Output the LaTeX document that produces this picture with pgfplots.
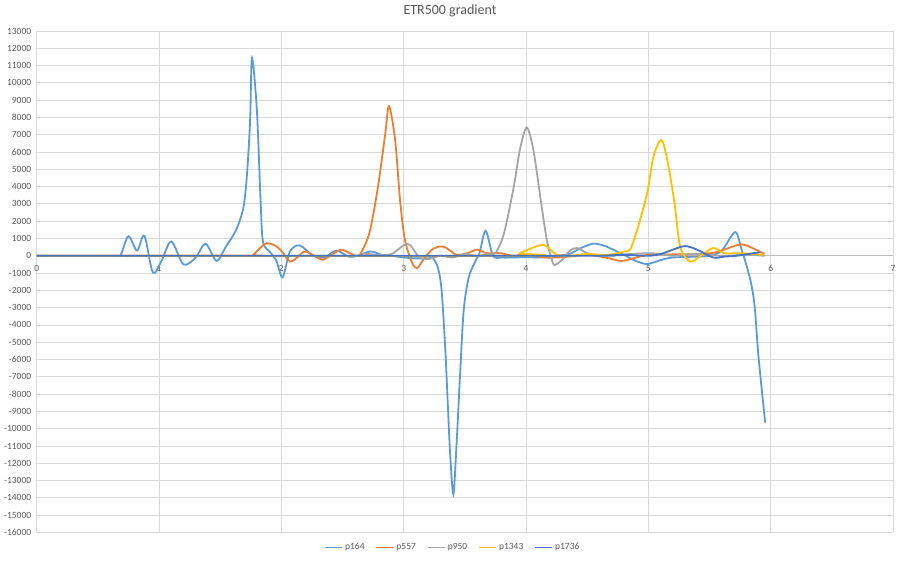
\documentclass[border=0pt]{standalone}
\usepackage{fontspec}
\setmainfont{Carlito}
\usepackage{pgfplots}
\pgfplotsset{compat=1.18}
\definecolor{c164}{HTML}{5B9BD5}
\definecolor{c557}{HTML}{ED7D31}
\definecolor{c950}{HTML}{A5A5A5}
\definecolor{c1343}{HTML}{FFC000}
\definecolor{c1736}{HTML}{4472C4}
\definecolor{txt}{HTML}{595959}
\definecolor{gridc}{HTML}{D9D9D9}
\definecolor{axc}{HTML}{BFBFBF}
\pgfplotsset{every axis title/.style={at={(0.4827,1)}, anchor=center, yshift=20pt}}
\begin{document}
\begin{tikzpicture}
\begin{axis}[
    name=ax,
    scale only axis,
    width=856.3pt, height=501.4pt,
    xmin=0, xmax=7, ymin=-16000, ymax=13000,
    xtick={0,1,...,7},
    ytick={-16000,-15000,...,13000},
    scaled y ticks=false,
    axis line style={draw=none},
    grid=major,
    major grid style={draw=gridc, line width=0.8pt},
    extra y ticks={0}, extra y tick labels={},
    extra y tick style={major grid style={draw=axc, line width=0.8pt}},
    major tick length=0pt,
    tick label style={font=\fontsize{9.5}{11}\selectfont, text=txt},
    xticklabel style={yshift=271pt},
    yticklabel style={xshift=-2pt},
    /pgf/number format/assume math mode=true,
    /pgf/number format/set thousands separator={},
    title={\textcolor{txt}{ETR500 gradient}},
    title style={font=\fontsize{14}{16}\selectfont},
    legend style={at={(0.486,-0.03)}, anchor=center, draw=none,
                  font=\fontsize{9.5}{11}\selectfont,
                  /tikz/every even column/.append style={column sep=9pt}},
    legend columns=-1,
    every axis plot/.append style={line width=1.8pt, smooth, tension=0.5},
]
% p164
\addplot[draw=c164] coordinates {
 (0,0) (0.65,0) (0.69,100) (0.75,1130) (0.82,300) (0.88,1150) (0.95,-970)
 (1.02,-300) (1.10,830) (1.20,-500) (1.30,-100) (1.38,700) (1.47,-300)
 (1.54,450) (1.63,1500) (1.69,2800) (1.72,4800) (1.745,7900) (1.76,11450)
 (1.80,8400) (1.83,3200) (1.85,800) (1.91,200) (1.96,-300) (2.01,-1250)
 (2.07,250) (2.15,600) (2.26,0) (2.35,-100) (2.45,300) (2.55,-50) (2.62,0)
 (2.73,250) (2.82,50) (2.90,0) (3.00,-100) (3.10,-150) (3.20,-150)
 (3.24,-150) (3.28,-700) (3.31,-2000) (3.34,-5400)
 (3.36,-8500) (3.38,-11500) (3.406,-13800) (3.43,-11200) (3.46,-7000)
 (3.49,-3200) (3.53,-1300) (3.58,-400) (3.62,170) (3.67,1450) (3.73,0) (3.80,-100)
 (3.90,-100) (4.00,-80) (4.10,-100) (4.20,-50) (4.35,100) (4.45,450)
 (4.55,700) (4.65,550) (4.80,50) (4.90,-300) (4.99,-480) (5.10,-250)
 (5.20,-100) (5.40,-50) (5.50,0) (5.60,300) (5.71,1370) (5.76,400)
 (5.80,-500) (5.84,-1600) (5.87,-3000) (5.90,-5800) (5.955,-9650)
};
% p557
\addplot[draw=c557] coordinates {
 (0,0) (1.74,0) (1.77,50) (1.82,400) (1.88,730) (1.96,540) (2.01,200)
 (2.07,-330) (2.13,-100) (2.19,250) (2.27,0) (2.34,-230) (2.42,100)
 (2.49,350) (2.56,150) (2.62,-30) (2.65,150) (2.72,1330) (2.79,4000)
 (2.85,7100) (2.88,8650) (2.93,6700) (2.97,3240) (3.01,920) (3.07,-420)
 (3.11,-710) (3.16,-230) (3.23,350) (3.30,540) (3.35,450) (3.43,60)
 (3.52,150) (3.60,350) (3.68,150) (3.79,150) (3.90,0) (4.00,100)
 (4.15,-100) (4.30,-80) (4.50,50) (4.65,-100) (4.78,-300) (4.90,-100)
 (5.00,50) (5.20,80) (5.40,100) (5.55,200) (5.75,650) (5.85,450) (5.95,100)
};
% p950
\addplot[draw=c950] coordinates {
 (0,0) (2.60,0) (2.70,100) (2.80,50) (2.90,100) (3.00,600) (3.05,640)
 (3.13,-120) (3.20,-200) (3.30,0) (3.40,-100) (3.50,100) (3.60,0)
 (3.70,100) (3.75,150) (3.82,1300) (3.90,4000) (3.95,6130) (4.005,7420)
 (4.06,6130) (4.12,3240) (4.17,920) (4.22,-420) (4.25,-480) (4.30,-200)
 (4.36,300) (4.42,450) (4.50,150) (4.60,0) (4.70,50) (4.85,100)
 (5.00,150) (5.10,100) (5.20,0) (5.40,100) (5.60,0) (5.80,50) (5.95,0)
};
% p1343
\addplot[draw=c1343] coordinates {
 (0,0) (3.90,0) (3.95,150) (4.05,450) (4.14,640) (4.20,350) (4.25,60)
 (4.35,0) (4.50,100) (4.65,50) (4.75,150) (4.80,250) (4.85,350)
 (4.90,1300) (4.99,3600) (5.04,5700) (5.105,6700) (5.15,5700) (5.21,3240)
 (5.26,540) (5.34,-330) (5.42,-40) (5.53,450) (5.62,150) (5.75,150)
 (5.94,60)
};
% p1736
\addplot[draw=c1736] coordinates {
 (0,0) (4.40,0) (4.60,0) (4.80,50) (5.00,0) (5.10,100) (5.20,350)
 (5.30,560) (5.40,350) (5.53,-100) (5.62,-50) (5.72,0) (5.86,150)
 (5.91,200)
};
% legend drawn with explicit styles
\addlegendimage{draw=c164, line width=1.8pt, sharp plot}
\addlegendentry{\textcolor{txt}{p164}}
\addlegendimage{draw=c557, line width=1.8pt, sharp plot}
\addlegendentry{\textcolor{txt}{p557}}
\addlegendimage{draw=c950, line width=1.8pt, sharp plot}
\addlegendentry{\textcolor{txt}{p950}}
\addlegendimage{draw=c1343, line width=1.8pt, sharp plot}
\addlegendentry{\textcolor{txt}{p1343}}
\addlegendimage{draw=c1736, line width=1.8pt, sharp plot}
\addlegendentry{\textcolor{txt}{p1736}}
\end{axis}
\pgfresetboundingbox
\path ([xshift=-36.7pt,yshift=-30pt]ax.south west) rectangle ([xshift=7pt,yshift=31pt]ax.north east);
\end{tikzpicture}
\end{document}
